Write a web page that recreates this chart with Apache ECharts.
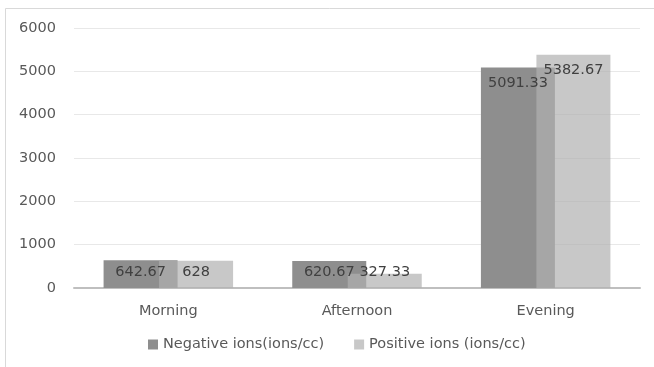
<!DOCTYPE html>
<html>
<head>
<meta charset="utf-8">
<script src="https://cdn.jsdelivr.net/npm/echarts@6/dist/echarts.min.js"></script>
<style>
  html, body { margin: 0; padding: 0; background: #fff; }
  #chart { width: 654px; height: 367px; }
</style>
</head>
<body>
<div id="chart"></div>
<script>
// Air ion concentration by time of day
const categories = ['Morning', 'Afternoon', 'Evening'];
const negativeIons = [642.67, 620.67, 5091.33];
const positiveIons = [628, 327.33, 5382.67];
const seriesNames = ['Negative ions(ions/cc)', 'Positive ions (ions/cc)'];
const yTicks = { min: 0, max: 6000, interval: 1000 };

const FONT = 'DejaVu Sans';

// Short bars carry their label just above the axis; tall bars carry it inside the top
function labelFor(v) {
  if (v > 2000) {
    return { position: 'insideTop', distance: 8 };
  }
  return { position: 'insideBottom', distance: 8 };
}

function toData(values) {
  return values.map(v => ({ value: v, label: labelFor(v) }));
}

const valueLabel = {
  show: true,
  fontFamily: FONT,
  fontSize: 14.5,
  color: '#404040',
  formatter: p => String(p.value)
};

const chart = echarts.init(document.getElementById('chart'), null, { renderer: 'canvas' });

chart.setOption({
  animation: false,
  backgroundColor: '#ffffff',
  textStyle: { fontFamily: FONT },
  graphic: [
    {
      type: 'polyline',
      silent: true,
      shape: { points: [[5.5, 367], [5.5, 8.5], [654, 8.5]] },
      style: { stroke: '#d9d9d9', lineWidth: 1, fill: null }
    }
  ],
  grid: { left: 74, right: 14, top: 28, bottom: 79 },
  legend: {
    data: seriesNames,
    bottom: 10,
    left: 143,
    itemWidth: 10,
    itemHeight: 10,
    itemGap: 30,
    icon: 'rect',
    textStyle: { fontFamily: FONT, fontSize: 14.5, color: '#595959' }
  },
  xAxis: {
    type: 'category',
    data: categories,
    axisLine: { lineStyle: { color: '#bfbfbf', width: 2 } },
    axisTick: { show: false },
    axisLabel: { fontFamily: FONT, fontSize: 14.5, color: '#595959', margin: 16 }
  },
  yAxis: {
    type: 'value',
    min: yTicks.min,
    max: yTicks.max,
    interval: yTicks.interval,
    axisLine: { show: false },
    axisTick: { show: false },
    axisLabel: {
      fontFamily: FONT,
      fontSize: 14.5,
      color: '#595959',
      margin: 18,
      formatter: v => String(v)
    },
    splitLine: { lineStyle: { color: '#e8e8e8', width: 1 } }
  },
  series: [
    {
      name: seriesNames[0],
      type: 'bar',
      data: toData(negativeIons),
      barWidth: 74,
      barGap: '-25%',
      itemStyle: { color: '#8e8e8e' },
      label: valueLabel
    },
    {
      name: seriesNames[1],
      type: 'bar',
      data: toData(positiveIons),
      barWidth: 74,
      barGap: '-25%',
      itemStyle: { color: 'rgba(176,176,176,0.7)' },
      label: valueLabel
    }
  ]
});
</script>
</body>
</html>
